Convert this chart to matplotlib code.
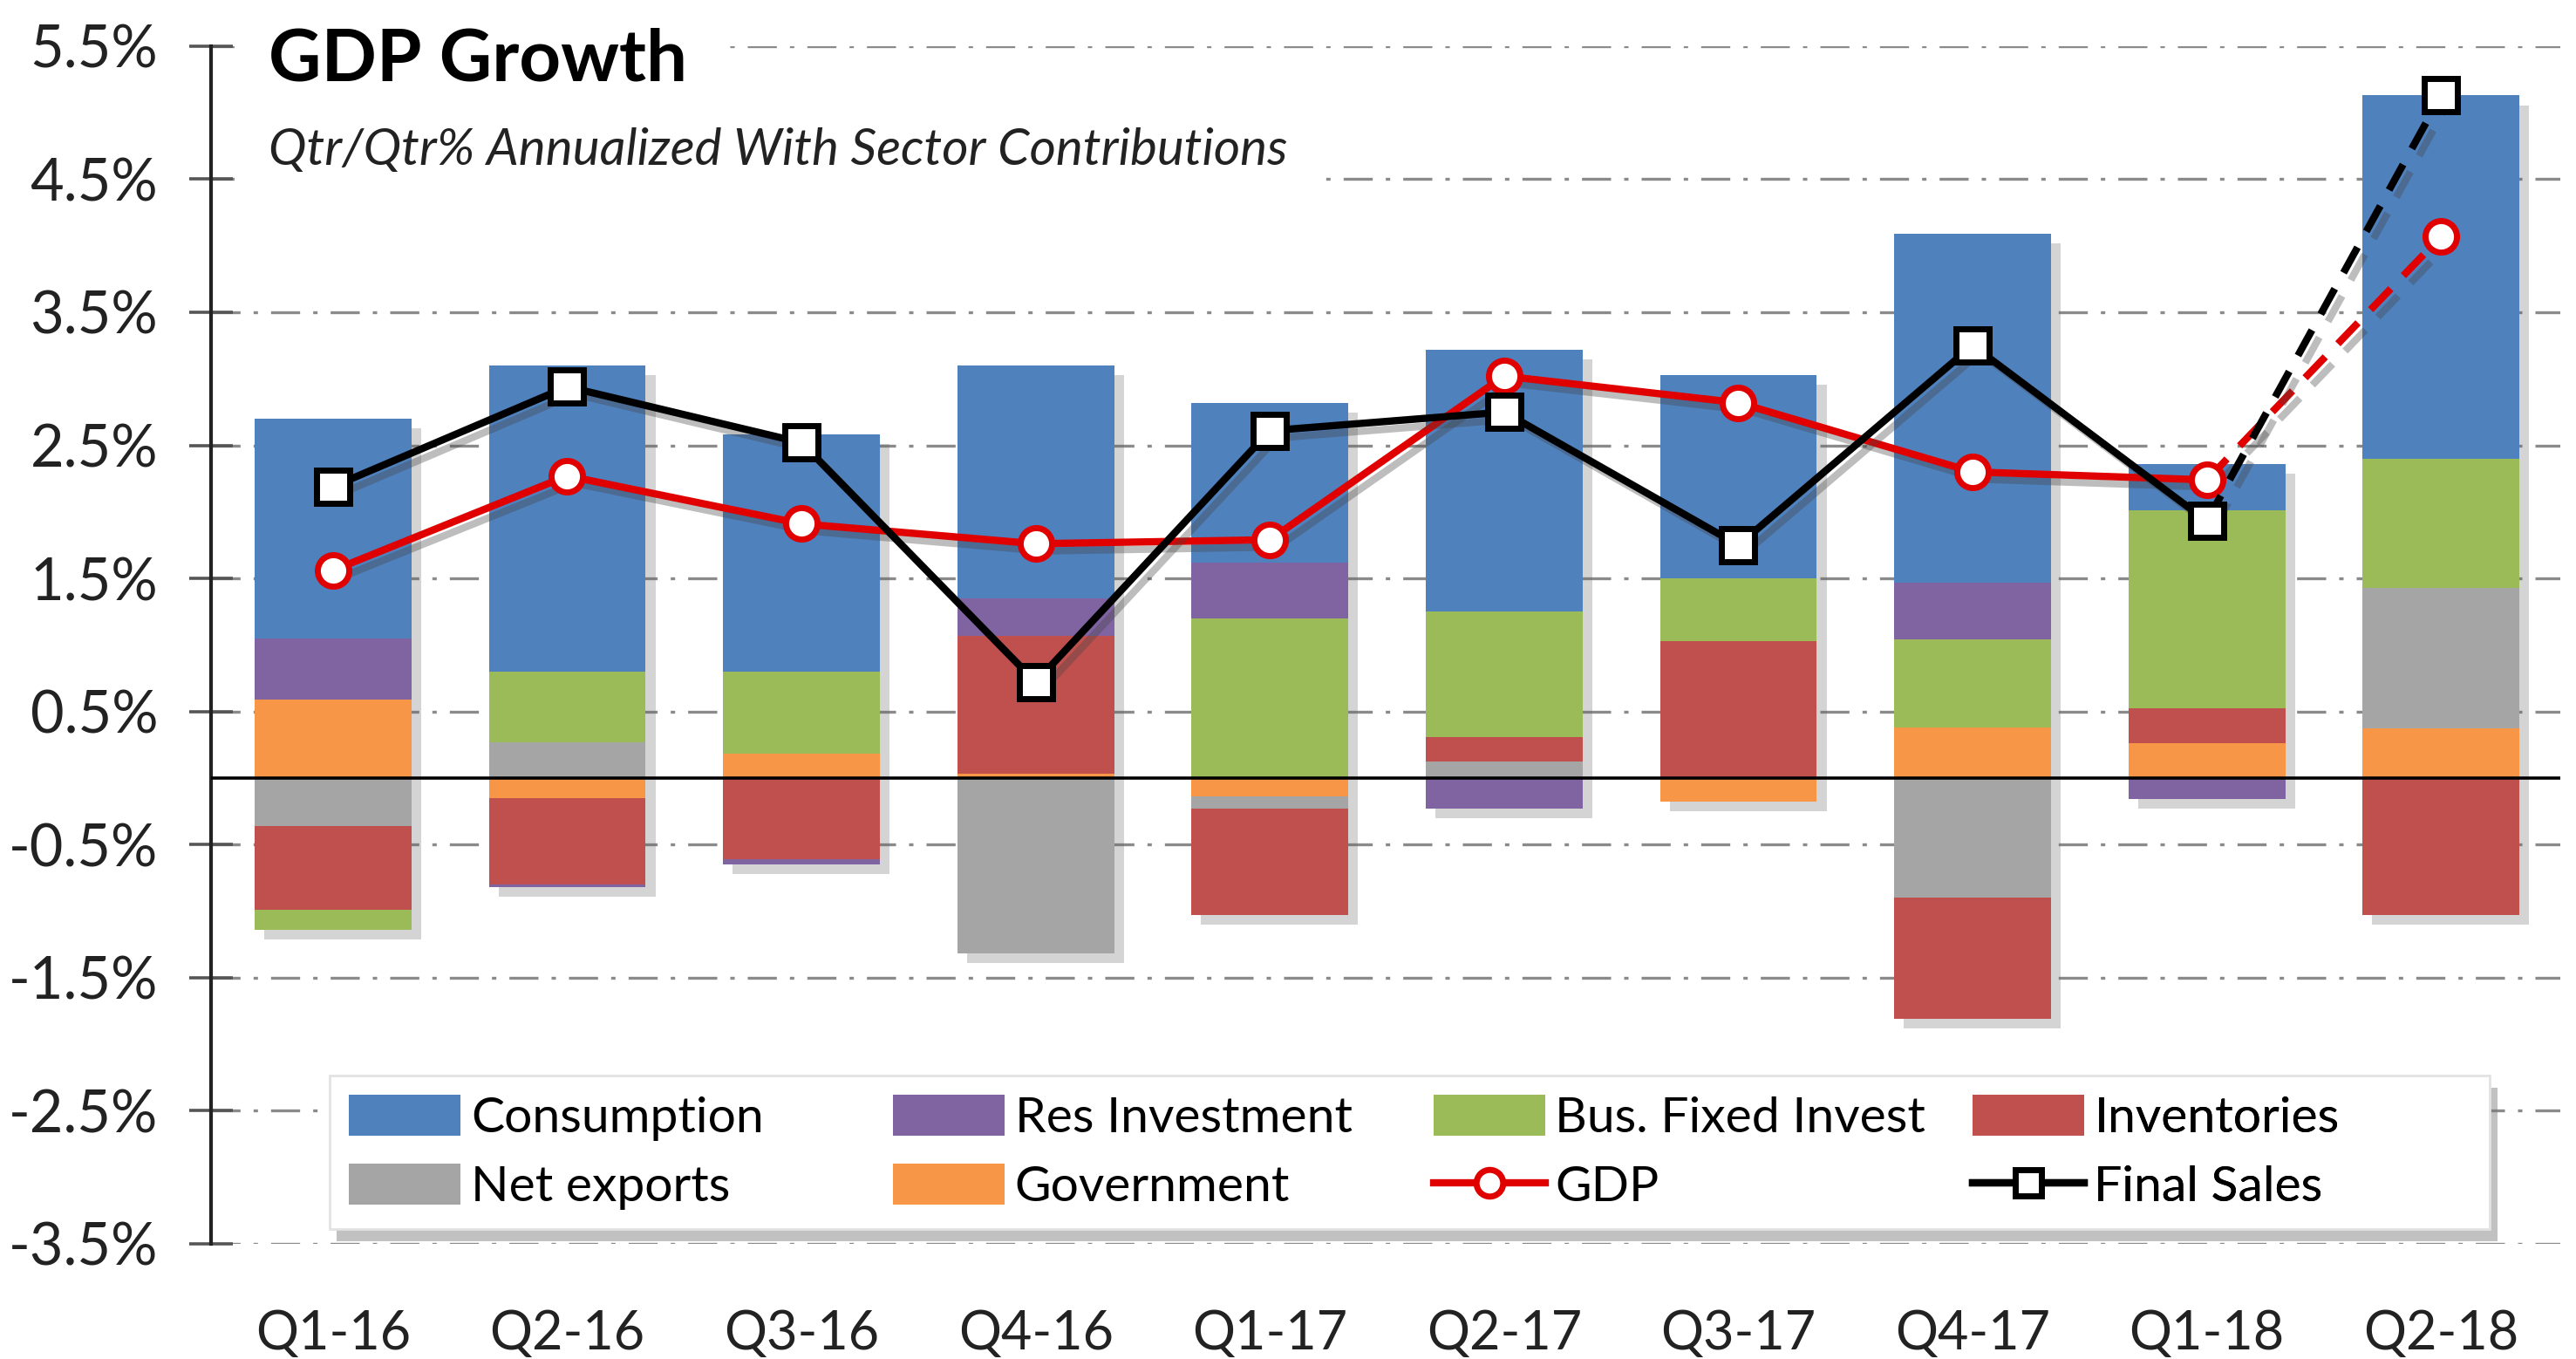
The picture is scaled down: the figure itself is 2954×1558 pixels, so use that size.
import numpy as np
import matplotlib.pyplot as plt
import matplotlib.patheffects as pe
from matplotlib.lines import Line2D
from matplotlib.patches import Rectangle

plt.rcParams['font.family'] = ['Lato', 'DejaVu Sans']

quarters = ['Q1-16', 'Q2-16', 'Q3-16', 'Q4-16', 'Q1-17',
            'Q2-17', 'Q3-17', 'Q4-17', 'Q1-18', 'Q2-18']

# sector contributions, percentage points
consumption = [1.65, 2.30, 1.78, 1.75, 1.20, 1.97, 1.53, 2.62, 0.35, 2.73]
res_invest = [0.46, -0.02, -0.04, 0.28, 0.42, -0.23, 0.00, 0.43, -0.16, 0.00]
bus_fixed = [-0.15, 0.53, 0.62, 0.00, 1.20, 0.94, 0.47, 0.66, 1.49, 0.97]
inventories = [-0.63, -0.65, -0.61, 1.04, -0.80, 0.19, 1.03, -0.91, 0.26, -1.03]
net_exports = [-0.36, 0.27, 0.00, -1.32, -0.09, 0.12, 0.00, -0.90, 0.00, 1.06]
government = [0.59, -0.15, 0.18, 0.03, -0.14, 0.00, -0.18, 0.38, 0.26, 0.37]

gdp = [1.56, 2.27, 1.91, 1.76, 1.79, 3.02, 2.82, 2.30, 2.24, 4.07]
final_sales = [2.19, 2.94, 2.52, 0.72, 2.61, 2.75, 1.75, 3.25, 1.93, 5.13]

# stacking order from the zero line outwards
series = [
    ('Government', government, '#F79646'),
    ('Net exports', net_exports, '#A5A5A5'),
    ('Inventories', inventories, '#C0504D'),
    ('Bus. Fixed Invest', bus_fixed, '#9BBB59'),
    ('Res Investment', res_invest, '#8064A2'),
    ('Consumption', consumption, '#4F81BD'),
]

x = np.arange(len(quarters))
w = 0.67

fig = plt.figure(figsize=(14.77, 7.79), dpi=200)
ax = fig.add_axes([0.082, 0.085, 0.912, 0.881])

pos_bot = np.zeros(len(x))
neg_bot = np.zeros(len(x))
handles = {}
for name, vals, col in series:
    v = np.array(vals)
    bottoms = np.where(v >= 0, pos_bot, neg_bot)
    bc = ax.bar(x, v, w, bottom=bottoms, color=col, zorder=3, label=name)
    handles[name] = bc
    pos_bot += np.where(v >= 0, v, 0)
    neg_bot += np.where(v < 0, v, 0)

# soft shadow behind each whole bar
ax.bar(x, pos_bot - neg_bot, w, bottom=neg_bot, color='white', zorder=2,
       path_effects=[pe.SimplePatchShadow(offset=(4, -4), shadow_rgbFace='#666666', alpha=0.28)])

shadow = [pe.SimpleLineShadow(offset=(3, -3), shadow_color='#444444', alpha=0.35), pe.Normal()]

# GDP line, solid through Q1-18 then dashed to Q2-18
ax.plot(x[:-1], gdp[:-1], color='#E00000', lw=3, zorder=5, path_effects=shadow)
ax.plot(x[-2:], gdp[-2:], color='#E00000', lw=3, ls=(0, (4, 2.5)), zorder=5, path_effects=shadow)
ax.plot(x, gdp, ls='none', marker='o', ms=13, mfc='white', mec='#E00000', mew=2.5, zorder=6)

ax.plot(x[:-1], final_sales[:-1], color='black', lw=3, zorder=7, path_effects=shadow)
ax.plot(x[-2:], final_sales[-2:], color='black', lw=3, ls=(0, (4, 2.5)), zorder=7, path_effects=shadow)
ax.plot(x, final_sales, ls='none', marker='s', ms=14, mfc='white', mec='black', mew=2.5, zorder=8)

ax.axhline(0, color='black', lw=1.3, zorder=4)

ax.set_xlim(-0.52, 9.51)
ax.set_ylim(-3.5, 5.5)
yt = np.arange(-3.5, 5.6, 1.0)
ax.set_yticks(yt)
ax.set_yticklabels(['%.1f%%' % t for t in yt], fontsize=24, color='#222222')
ax.set_xticks(x)
ax.set_xticklabels(quarters, fontsize=22, color='#222222')
ax.tick_params(axis='x', length=0, pad=27)
ax.tick_params(axis='y', direction='inout', length=18, width=1.3, color='#555555', pad=13)

for s in ['top', 'right', 'bottom']:
    ax.spines[s].set_visible(False)
ax.spines['left'].set_linewidth(1.5)
ax.spines['left'].set_color('#222222')

ax.grid(axis='y', color='#8a8a8a', lw=1.2, ls=(0, (10, 4.5, 1.5, 4.5)), zorder=0)
ax.set_axisbelow(True)

ax.text(0.0245, 0.988, 'GDP Growth', transform=ax.transAxes, fontsize=30,
        fontweight='bold', va='center', ha='left', zorder=10,
        bbox=dict(facecolor='white', edgecolor='none', pad=14))
ax.text(0.0245, 0.913, 'Qtr/Qtr% Annualized With Sector Contributions', transform=ax.transAxes,
        fontsize=21, style='italic', va='center', ha='left', color='#222222', zorder=10,
        bbox=dict(facecolor='white', edgecolor='none', pad=14))

# legend: white box with a shadow, four equally spaced columns
box = Rectangle((0.0503, 0.0123), 0.9197, 0.1277, transform=ax.transAxes,
                facecolor='white', edgecolor='#e2e2e2', lw=1, zorder=11,
                path_effects=[pe.withSimplePatchShadow(offset=(3, -5), shadow_rgbFace='#777777', alpha=0.45)])
ax.add_patch(box)

gdp_h = Line2D([], [], color='#E00000', lw=3, marker='o', ms=11, mfc='white', mec='#E00000', mew=2.5)
fs_h = Line2D([], [], color='black', lw=3, marker='s', ms=11, mfc='white', mec='black', mew=2.5)
columns = [
    ([handles['Consumption'], handles['Net exports']], ['Consumption', 'Net exports']),
    ([handles['Res Investment'], handles['Government']], ['Res Investment', 'Government']),
    ([handles['Bus. Fixed Invest'], gdp_h], ['Bus. Fixed Invest', 'GDP']),
    ([handles['Inventories'], fs_h], ['Inventories', 'Final Sales']),
]
col_x = [0.0587, 0.2902, 0.5203, 0.7497]
for cx, (hs, ls) in zip(col_x, columns):
    lg = ax.legend(hs, ls, loc='center left', bbox_to_anchor=(cx, 0.0761), frameon=False,
                   fontsize=20.5, borderpad=0, borderaxespad=0, handlelength=2.25,
                   handleheight=0.9, handletextpad=0.2, labelspacing=0.45)
    lg.set_zorder(12)
    ax.add_artist(lg)

fig.savefig('out.png', dpi=200)
